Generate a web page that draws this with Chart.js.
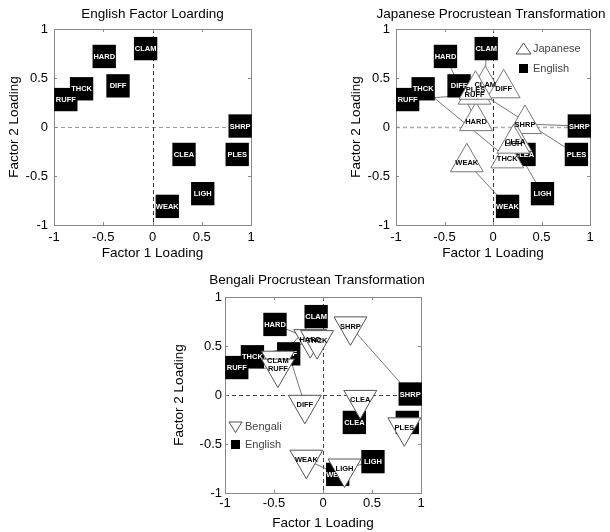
<!DOCTYPE html>
<html>
<head>
<meta charset="utf-8">
<script src="https://cdn.jsdelivr.net/npm/chart.js@4.4.1/dist/chart.umd.min.js"></script>
<style>
  body { margin: 0; background: #fff; overflow: hidden; }
  .cell { position: absolute; }
</style>
</head>
<body>
<div class="cell" style="left:0;top:0"><canvas id="english" width="305" height="265"></canvas></div>
<div class="cell" style="left:305px;top:0"><canvas id="japanese" width="305" height="265"></canvas></div>
<div class="cell" style="left:160px;top:265px"><canvas id="bengali" width="300" height="267"></canvas></div>
<script>
// adjective labels, same order in every array
const words = ['CLAM', 'HARD', 'DIFF', 'THCK', 'RUFF', 'SHRP', 'CLEA', 'PLES', 'LIGH', 'WEAK'];

// english factor loadings (black squares)
const englishX = [-0.07, -0.49, -0.35, -0.72, -0.88, 0.89, 0.32, 0.86, 0.51, 0.15];
const englishY = [0.80, 0.72, 0.42, 0.39, 0.28, 0.01, -0.28, -0.28, -0.68, -0.81];

// japanese after procrustean rotation (up triangles)
const japaneseX = [-0.08, -0.175, 0.11, 0.147, -0.19, 0.33, 0.23, -0.18, 0.21, -0.27];
const japaneseY = [0.43, 0.06, 0.395, -0.32, 0.33, 0.03, -0.15, 0.38, -0.17, -0.36];

// bengali after procrustean rotation (down triangles)
const bengaliX = [-0.46, -0.13, -0.185, -0.06, -0.46, 0.28, 0.38, 0.83, 0.22, -0.17];
const bengaliY = [0.35, 0.57, -0.10, 0.56, 0.27, 0.70, -0.05, -0.33, -0.75, -0.66];

const tickValues = [-1, -0.5, 0, 0.5, 1];
const tickLabels = ['-1', '-0.5', '0', '0.5', '1'];

const FONT = 'Arial, "Liberation Sans", sans-serif';

function points(xs, ys) {
    return xs.map((x, i) => ({x: x, y: ys[i]}));
}

function squares(xs, ys) {
    return {
        data: points(xs, ys),
        pointStyle: 'rect',
        pointRadius: 16.5,
        pointHoverRadius: 16.5,
        pointBackgroundColor: '#000',
        pointBorderWidth: 0,
        order: 2,
        clip: false,
        wordLabels: words,
        labelColor: '#fff'
    };
}

function triangles(xs, ys, rotation, stroke) {
    return {
        data: points(xs, ys),
        pointStyle: 'triangle',
        pointRotation: rotation,
        pointRadius: 19,
        pointHoverRadius: 19,
        pointBackgroundColor: '#fff',
        pointBorderColor: stroke,
        pointBorderWidth: 1,
        order: 1,
        clip: false,
        wordLabels: words,
        labelColor: '#000'
    };
}

function connectors(xs, ys) {
    return words.map((w, i) => ({
        data: [{x: englishX[i], y: englishY[i]}, {x: xs[i], y: ys[i]}],
        showLine: true,
        borderColor: '#666',
        borderWidth: 0.9,
        pointRadius: 0,
        order: 3,
        clip: false
    }));
}

// box, inward ticks, dashed zero lines, word labels, titles and legends
const framePlugin = {
    id: 'frame',
    beforeDatasetsDraw(chart, args, opts) {
        const {ctx, chartArea: a, scales: {x, y}} = chart;
        ctx.save();
        ctx.lineWidth = 1;
        ctx.setLineDash([4, 3]);
        const x0 = Math.round(x.getPixelForValue(0)) + 0.5;
        const y0 = Math.round(y.getPixelForValue(0)) + 0.5;
        ctx.strokeStyle = opts.hColor;
        ctx.lineWidth = opts.hWidth;
        ctx.beginPath(); ctx.moveTo(a.left, y0); ctx.lineTo(a.right, y0); ctx.stroke();
        ctx.strokeStyle = opts.vColor;
        ctx.lineWidth = 1;
        ctx.beginPath(); ctx.moveTo(x0, a.top); ctx.lineTo(x0, a.bottom); ctx.stroke();
        ctx.setLineDash([]);

        ctx.strokeStyle = '#888';
        ctx.strokeRect(Math.round(a.left) + 0.5, Math.round(a.top) + 0.5,
                       Math.round(a.right - a.left), Math.round(a.bottom - a.top));
        ctx.beginPath();
        x.ticks.forEach(t => {
            const px = Math.round(x.getPixelForValue(t.value)) + 0.5;
            ctx.moveTo(px, a.bottom); ctx.lineTo(px, a.bottom - 3);
            ctx.moveTo(px, a.top); ctx.lineTo(px, a.top + 3);
        });
        y.ticks.forEach(t => {
            const py = Math.round(y.getPixelForValue(t.value)) + 0.5;
            ctx.moveTo(a.left, py); ctx.lineTo(a.left + 3, py);
            ctx.moveTo(a.right, py); ctx.lineTo(a.right - 3, py);
        });
        ctx.stroke();
        ctx.restore();
    },
    afterDatasetDraw(chart, args) {
        const ds = chart.data.datasets[args.index];
        if (!ds.wordLabels) return;
        const ctx = chart.ctx;
        ctx.save();
        ctx.font = 'bold 7.5px ' + FONT;
        ctx.fillStyle = ds.labelColor;
        ctx.textAlign = 'center';
        ctx.textBaseline = 'middle';
        args.meta.data.forEach((pt, i) => ctx.fillText(ds.wordLabels[i], pt.x, pt.y + 0.5));
        ctx.restore();
    },
    afterDraw(chart, args, opts) {
        const {ctx, chartArea: a} = chart;
        ctx.save();
        ctx.font = '13.5px ' + FONT;
        ctx.fillStyle = '#000';
        ctx.textAlign = 'center';
        ctx.textBaseline = 'middle';
        ctx.fillText(opts.title, (a.left + a.right) / 2 + opts.titleShift, opts.titleY);

        if (opts.legend) {
            const L = opts.legend;
            const tx = a.left + L.dx, ty = a.top + L.dy;
            ctx.strokeStyle = '#222';
            ctx.lineWidth = 0.8;
            ctx.beginPath();
            if (L.down) {
                ctx.moveTo(tx - 6.5, ty - 4.5); ctx.lineTo(tx + 6.5, ty - 4.5); ctx.lineTo(tx, ty + 6);
            } else {
                ctx.moveTo(tx - 7.5, ty + 5); ctx.lineTo(tx + 7.5, ty + 5); ctx.lineTo(tx, ty - 6);
            }
            ctx.closePath();
            ctx.stroke();
            ctx.fillStyle = '#000';
            ctx.fillRect(tx - 4.5, ty + L.gap - 4.5, 9, 9);
            ctx.font = '11px ' + FONT;
            ctx.fillStyle = '#444';
            ctx.textAlign = 'left';
            ctx.fillText(L.name, tx + 9.5, ty);
            ctx.fillText('English', tx + 9.5, ty + L.gap);
        }
        ctx.restore();
    }
};

function makeChart(id, datasets, c) {
    return new Chart(document.getElementById(id), {
        type: 'scatter',
        data: {datasets: datasets},
        plugins: [framePlugin],
        options: {
            responsive: false,
            animation: false,
            events: [],
            layout: {padding: {top: c.top, right: c.right, left: 0, bottom: 0}},
            plugins: {
                legend: {display: false},
                tooltip: {enabled: false},
                frame: {
                    title: c.title, titleY: c.titleY, titleShift: c.titleShift || 0,
                    hColor: c.hColor, hWidth: c.hWidth, vColor: c.vColor,
                    legend: c.legend
                }
            },
            scales: {
                x: {
                    type: 'linear', min: -1, max: 1,
                    afterBuildTicks: s => { s.ticks = tickValues.map(v => ({value: v})); },
                    afterFit: s => { s.height = c.xh; },
                    grid: {display: false, drawTicks: false},
                    border: {display: false},
                    ticks: {
                        autoSkip: false, maxRotation: 0, padding: c.xPad, color: '#000',
                        font: {family: FONT, size: 13},
                        callback: v => tickLabels[tickValues.indexOf(v)]
                    },
                    title: {
                        display: true, text: 'Factor 1 Loading', color: '#000',
                        font: {family: FONT, size: 13.5}, padding: {top: 0, bottom: c.xTitlePad}
                    }
                },
                y: {
                    type: 'linear', min: -1, max: 1,
                    afterBuildTicks: s => { s.ticks = tickValues.map(v => ({value: v})); },
                    afterFit: s => { s.width = c.yw; },
                    grid: {display: false, drawTicks: false},
                    border: {display: false},
                    ticks: {
                        autoSkip: false, padding: c.yPad, color: '#000',
                        font: {family: FONT, size: 13},
                        callback: v => tickLabels[tickValues.indexOf(v)]
                    },
                    title: {
                        display: true, text: 'Factor 2 Loading', color: '#000',
                        font: {family: FONT, size: 13.5}, padding: {top: c.yTitlePad, bottom: 0}
                    }
                }
            }
        }
    });
}

makeChart('english', [squares(englishX, englishY)], {
    title: 'English Factor Loarding', titleY: 14,
    top: 29, right: 54, yw: 54, xh: 40,
    xPad: 5, yPad: 6, xTitlePad: 3.9, yTitlePad: 5.9,
    hColor: '#999', hWidth: 1.2, vColor: '#333'
});

makeChart('japanese', [
    triangles(japaneseX, japaneseY, 0, '#777'),
    squares(englishX, englishY),
    ...connectors(japaneseX, japaneseY)
], {
    title: 'Japanese Procrustean Transformation', titleY: 14, titleShift: -2,
    top: 29, right: 18, yw: 91, xh: 40,
    xPad: 5, yPad: 6, xTitlePad: 3.9, yTitlePad: 43,
    hColor: '#aaa', hWidth: 1.5, vColor: '#333',
    legend: {name: 'Japanese', dx: 127.5, dy: 20, gap: 19.5, down: false}
});

makeChart('bengali', [
    triangles(bengaliX, bengaliY, 180, '#555'),
    squares(englishX, englishY),
    ...connectors(bengaliX, bengaliY)
], {
    title: 'Bengali Procrustean Transformation', titleY: 15, titleShift: -6,
    top: 32, right: 39, yw: 65, xh: 39,
    xPad: 3, yPad: 3, xTitlePad: 0.6, yTitlePad: 10.9,
    hColor: '#444', hWidth: 1, vColor: '#444',
    legend: {name: 'Bengali', dx: 10.5, dy: 129.5, gap: 18, down: true}
});
</script>
</body>
</html>
